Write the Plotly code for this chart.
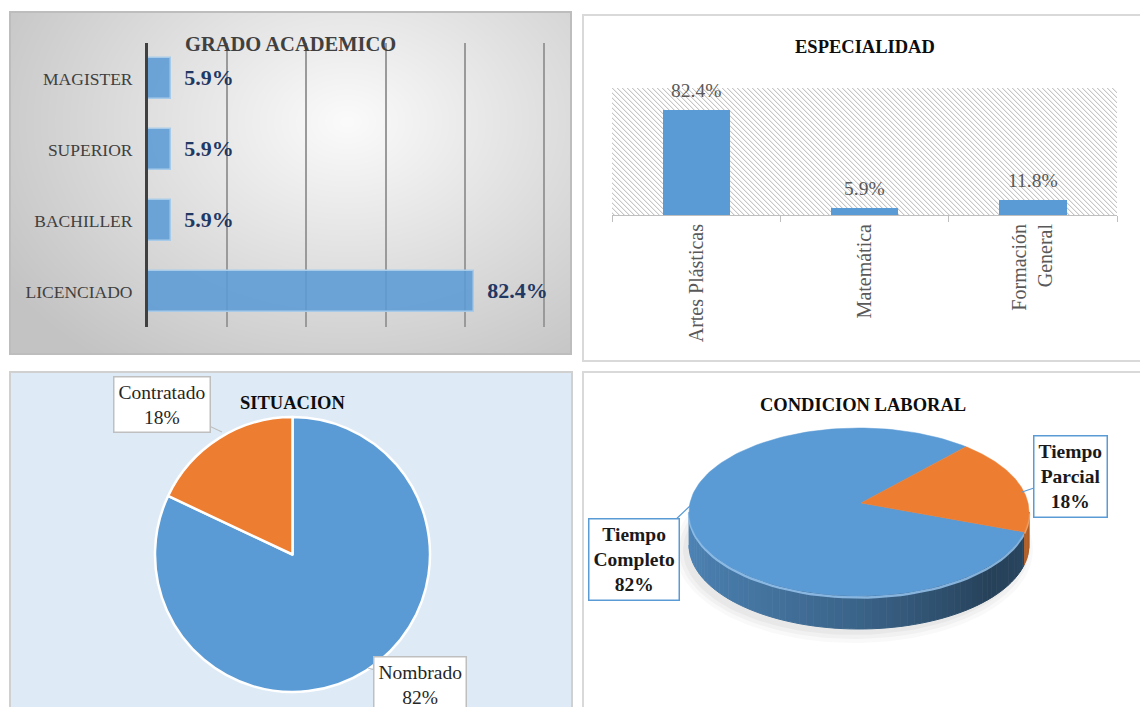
import base64
import struct
import zlib

import numpy as np
import plotly.graph_objects as go

W, H = 1140, 707

# ---------------- data ----------------
grado_cats = ["MAGISTER", "SUPERIOR", "BACHILLER", "LICENCIADO"]
grado_vals = [5.9, 5.9, 5.9, 82.4]

esp_cats = ["Artes Plásticas", "Matemática", "Formación<br>General"]
esp_vals = [82.4, 5.9, 11.8]

sit_labels = ["Nombrado", "Contratado"]
sit_vals = [82, 18]

cond_labels = ["Tiempo Completo", "Tiempo Parcial"]
cond_vals = [82, 18]

BLUE = "#5B9BD5"
ORANGE = "#ED7D31"
SERIF = "Liberation Serif"


def px(x):
    return x / W


def py(y):
    return 1 - y / H


def png_uri(arr):
    h, w, _ = arr.shape
    raw = b"".join(b"\x00" + arr[i].tobytes() for i in range(h))

    def chunk(t, d):
        c = struct.pack(">I", len(d)) + t + d
        return c + struct.pack(">I", zlib.crc32(t + d) & 0xFFFFFFFF)

    png = (b"\x89PNG\r\n\x1a\n"
           + chunk(b"IHDR", struct.pack(">IIBBBBB", w, h, 8, 2, 0, 0, 0))
           + chunk(b"IDAT", zlib.compress(raw, 9))
           + chunk(b"IEND", b""))
    return "data:image/png;base64," + base64.b64encode(png).decode()


# radial grey gradient for panel 1
gw, gh = 561, 342
yy, xx = np.mgrid[0:gh, 0:gw].astype(float)
d = np.sqrt(((xx - 0.6 * gw) / (0.78 * gw)) ** 2 + ((yy - 0.32 * gh) / (0.95 * gh)) ** 2)
val = np.clip(251 - 60 * d, 195, 251).astype(np.uint8)
grad = np.stack([val, val, val], axis=-1)
grad_uri = png_uri(np.ascontiguousarray(grad))

# panel 2 plot area (pixels)
P2L, P2R, P2T, P2B = 612, 1117, 88, 215

# diagonal hatch for panel 2 plot area
hw, hh = P2R - P2L, P2B - P2T
yy, xx = np.mgrid[0:hh, 0:hw]
m = (xx - yy) % 5
hv = np.where(m == 0, 198, np.where(m == 1, 236, 255)).astype(np.uint8)
hatch = np.stack([hv, hv, hv], axis=-1)
hatch_uri = png_uri(np.ascontiguousarray(hatch))

fig = go.Figure()

# ---------------- panel 1: GRADO ACADEMICO ----------------
fig.add_trace(go.Bar(
    y=grado_cats, x=grado_vals, orientation="h", xaxis="x", yaxis="y",
    width=0.58,
    marker=dict(color="rgba(91,155,213,0.88)", line=dict(color="#a9cbea", width=1.5)),
    text=[f"\u00a0\u00a0<b>{v:.1f}%</b>" for v in grado_vals],
    textposition="outside", cliponaxis=False, constraintext="none",
    textfont=dict(family=SERIF, size=22, color="#1f3864"),
    hoverinfo="skip", showlegend=False,
))

# ---------------- panel 2: ESPECIALIDAD ----------------
fig.add_trace(go.Bar(
    x=esp_cats, y=esp_vals, xaxis="x2", yaxis="y2", width=0.4,
    marker=dict(color=BLUE, line=dict(width=0)),
    hoverinfo="skip", showlegend=False,
))

# ---------------- panel 3: SITUACION ----------------
fig.add_trace(go.Pie(
    labels=sit_labels, values=sit_vals, sort=False, direction="clockwise", rotation=0,
    marker=dict(colors=[BLUE, ORANGE], line=dict(color="white", width=2.5)),
    textinfo="none", hoverinfo="skip", showlegend=False,
    domain=dict(x=[px(155), px(430)], y=[py(692), py(417)]),
))

# ---------------- panel 4: CONDICION LABORAL (3D pie) ----------------
cx, cy, rx, ry, dep = 859, 512, 170, 84, 33
apx, apy = 861, 503          # perspective apex of the top face
ROT = 103.8
tot = float(sum(cond_vals))
cols = [(91, 155, 213), (237, 125, 49)]


def ell(t, dz=0.0):
    tr = np.radians(t)
    return cx + rx * np.cos(tr), cy - ry * np.sin(tr) + dz


def add_poly(xs, ys, color, lw=1.0):
    fig.add_trace(go.Scatter(
        x=xs, y=ys, xaxis="x3", yaxis="y3", mode="lines", fill="toself",
        fillcolor=color, line=dict(color=color, width=lw),
        hoverinfo="skip", showlegend=False,
    ))


# soft shadow
for grow, alpha in [(9, 0.025), (5, 0.03), (1, 0.035)]:
    t = np.linspace(0, 360, 120)
    ex = cx - 5 + (rx + grow) * np.cos(np.radians(t))
    ey = cy + dep + 5 - (ry + grow) * np.sin(np.radians(t))
    add_poly(list(ex), list(ey), f"rgba(0,0,0,{alpha})", lw=0)

slices = []
a0 = 90 - ROT
for v, col in zip(cond_vals, cols):
    a1 = a0 - 360 * v / tot
    slices.append((a0, a1, col))
    a0 = a1


def norm_t(t):
    return ((t - 180) % 360) + 180


# side walls
for si, (s0, s1, col) in enumerate(slices):
    for k in (-2, -1, 0):
        lo = max(s1, 180 + 360 * k)
        hi = min(s0, 360 + 360 * k)
        if hi <= lo:
            continue
        n = max(1, int(np.ceil((hi - lo) / 2.5)))
        edges = np.linspace(lo, hi, n + 1)
        for t1, t2 in zip(edges[:-1], edges[1:]):
            tm = norm_t(0.5 * (t1 + t2))
            if si == 0:
                sh = np.interp(tm, [180, 230, 270, 320, 360], [0.86, 0.76, 0.64, 0.42, 0.46])
            else:
                sh = np.interp(tm, [180, 360], [0.9, 0.74])
            c = tuple(int(round(ch * sh)) for ch in col)
            tt = np.linspace(t1, t2, 4)
            xt, yt = ell(tt)
            xb, yb = ell(tt[::-1], dep)
            add_poly(list(xt) + list(xb), list(yt) + list(yb), f"rgb{c}", lw=1)
        # rim highlight
        tt = np.linspace(lo, hi, 60)
        xt, yt = ell(tt, 1.5)
        hl = "rgba(150,196,238,0.85)" if si == 0 else "rgba(248,170,110,0.85)"
        fig.add_trace(go.Scatter(x=xt, y=yt, xaxis="x3", yaxis="y3", mode="lines",
                                 line=dict(color=hl, width=2.5), hoverinfo="skip",
                                 showlegend=False))

# top faces
for s0, s1, col in slices:
    tt = np.linspace(s0, s1, 160)
    xa, ya = ell(tt)
    add_poly([apx] + list(xa) + [apx], [apy] + list(ya) + [apy], f"rgb{col}", lw=0.5)

# ---------------- layout ----------------
shapes = [
    dict(type="rect", xref="paper", yref="paper", x0=px(10), y0=py(12), x1=px(571), y1=py(354),
         line=dict(color="#bdbdbd", width=2), layer="below"),
    dict(type="rect", xref="paper", yref="paper", x0=px(583), y0=py(15), x1=px(1145), y1=py(361),
         line=dict(color="#d9d9d9", width=2), layer="below"),
    dict(type="rect", xref="paper", yref="paper", x0=px(10), y0=py(372), x1=px(572), y1=py(712),
         fillcolor="#DEEBF7", line=dict(color="#d0d0d0", width=2), layer="below"),
    dict(type="rect", xref="paper", yref="paper", x0=px(583), y0=py(372), x1=px(1145), y1=py(712),
         line=dict(color="#d9d9d9", width=2), layer="below"),
]

images = [
    dict(source=grad_uri, xref="paper", yref="paper", x=px(10), y=py(12),
         sizex=gw / W, sizey=gh / H, sizing="stretch", xanchor="left", yanchor="top",
         layer="below"),
    dict(source=hatch_uri, xref="paper", yref="paper", x=px(P2L), y=py(P2T),
         sizex=hw / W, sizey=hh / H, sizing="stretch", xanchor="left", yanchor="top",
         layer="below"),
]

ann = []

# data labels for panel 2
for c, v in zip(esp_cats, esp_vals):
    ann.append(dict(text=f"{v:.1f}%", x=c, y=v, xref="x2", yref="y2", showarrow=False,
                    yanchor="bottom", xanchor="center", yshift=7,
                    font=dict(family=SERIF, size=19.5, color="#595959")))


def title(text, x, y, size, color):
    ann.append(dict(text=f"<b>{text}</b>", x=x, y=y, xref="x3", yref="y3", showarrow=False,
                    font=dict(family=SERIF, size=size, color=color),
                    xanchor="center", yanchor="middle"))


title("GRADO ACADEMICO", 290, 44, 20.5, "#404040")
title("ESPECIALIDAD", 865, 47, 18.5, "#0d0d0d")
title("SITUACION", 292, 403, 18.5, "#0d0d0d")
title("CONDICION LABORAL", 863, 405, 18.5, "#0d0d0d")


def callout(text, tx, ty, bx, by, border, bold=False):
    t = f"<b>{text}</b>" if bold else text
    ann.append(dict(text=t, x=tx, y=ty, xref="x3", yref="y3", ax=bx - tx, ay=by - ty,
                    showarrow=True, arrowhead=0, arrowwidth=1.2, arrowcolor=border,
                    bgcolor="white", bordercolor=border, borderwidth=1.5, borderpad=4,
                    font=dict(family=SERIF, size=19.5, color="#1a1a1a" if bold else "#262626"),
                    align="center", standoff=0, startstandoff=0))


callout(f"{sit_labels[1]}<br>{sit_vals[1]}%", 222, 432, 162, 404, "#bfbfbf")
callout(f"{sit_labels[0]}<br>{sit_vals[0]}%", 368, 668, 420, 684, "#bfbfbf")
callout(f"{cond_labels[1].replace(' ', '<br>')}<br>{cond_vals[1]}%", 1022, 492, 1070, 476,
        BLUE, bold=True)
callout(f"{cond_labels[0].replace(' ', '<br>')}<br>{cond_vals[0]}%", 691, 505, 634, 559,
        BLUE, bold=True)

XMAX1 = 100.6
fig.update_layout(
    width=W, height=H, margin=dict(l=0, r=0, t=0, b=0),
    paper_bgcolor="white", plot_bgcolor="rgba(0,0,0,0)",
    shapes=shapes, images=images, annotations=ann, showlegend=False,
    bargap=0,
    xaxis=dict(domain=[px(148), px(148 + 3.96 * XMAX1)], range=[0, XMAX1], dtick=20,
               showgrid=True, gridcolor="#9a9a9a", gridwidth=1.5, showticklabels=False,
               zeroline=False, anchor="y", fixedrange=True),
    yaxis=dict(domain=[py(327), py(43)], autorange="reversed", showline=True,
               linecolor="#404040", linewidth=3, ticks="", ticklabelstandoff=9,
               tickfont=dict(family=SERIF, size=17.5, color="#404040"), anchor="x",
               showgrid=False, fixedrange=True),
    xaxis2=dict(domain=[px(P2L), px(P2R)], anchor="y2", showline=True, linecolor="#bfbfbf",
                linewidth=1, ticks="outside", tickson="boundaries", ticklen=6,
                tickcolor="#bfbfbf", tickangle=-90, showgrid=False, fixedrange=True,
                tickfont=dict(family=SERIF, size=20, color="#595959")),
    yaxis2=dict(domain=[py(P2B), py(P2T)], range=[0, 100], visible=False, anchor="x2",
                fixedrange=True),
    xaxis3=dict(domain=[0, 1], range=[0, W], visible=False, anchor="y3", fixedrange=True),
    yaxis3=dict(domain=[0, 1], range=[H, 0], visible=False, anchor="x3", fixedrange=True),
)

fig.write_html("out.html", config={"displayModeBar": False},
               post_script="document.body.style.margin='0px';")
